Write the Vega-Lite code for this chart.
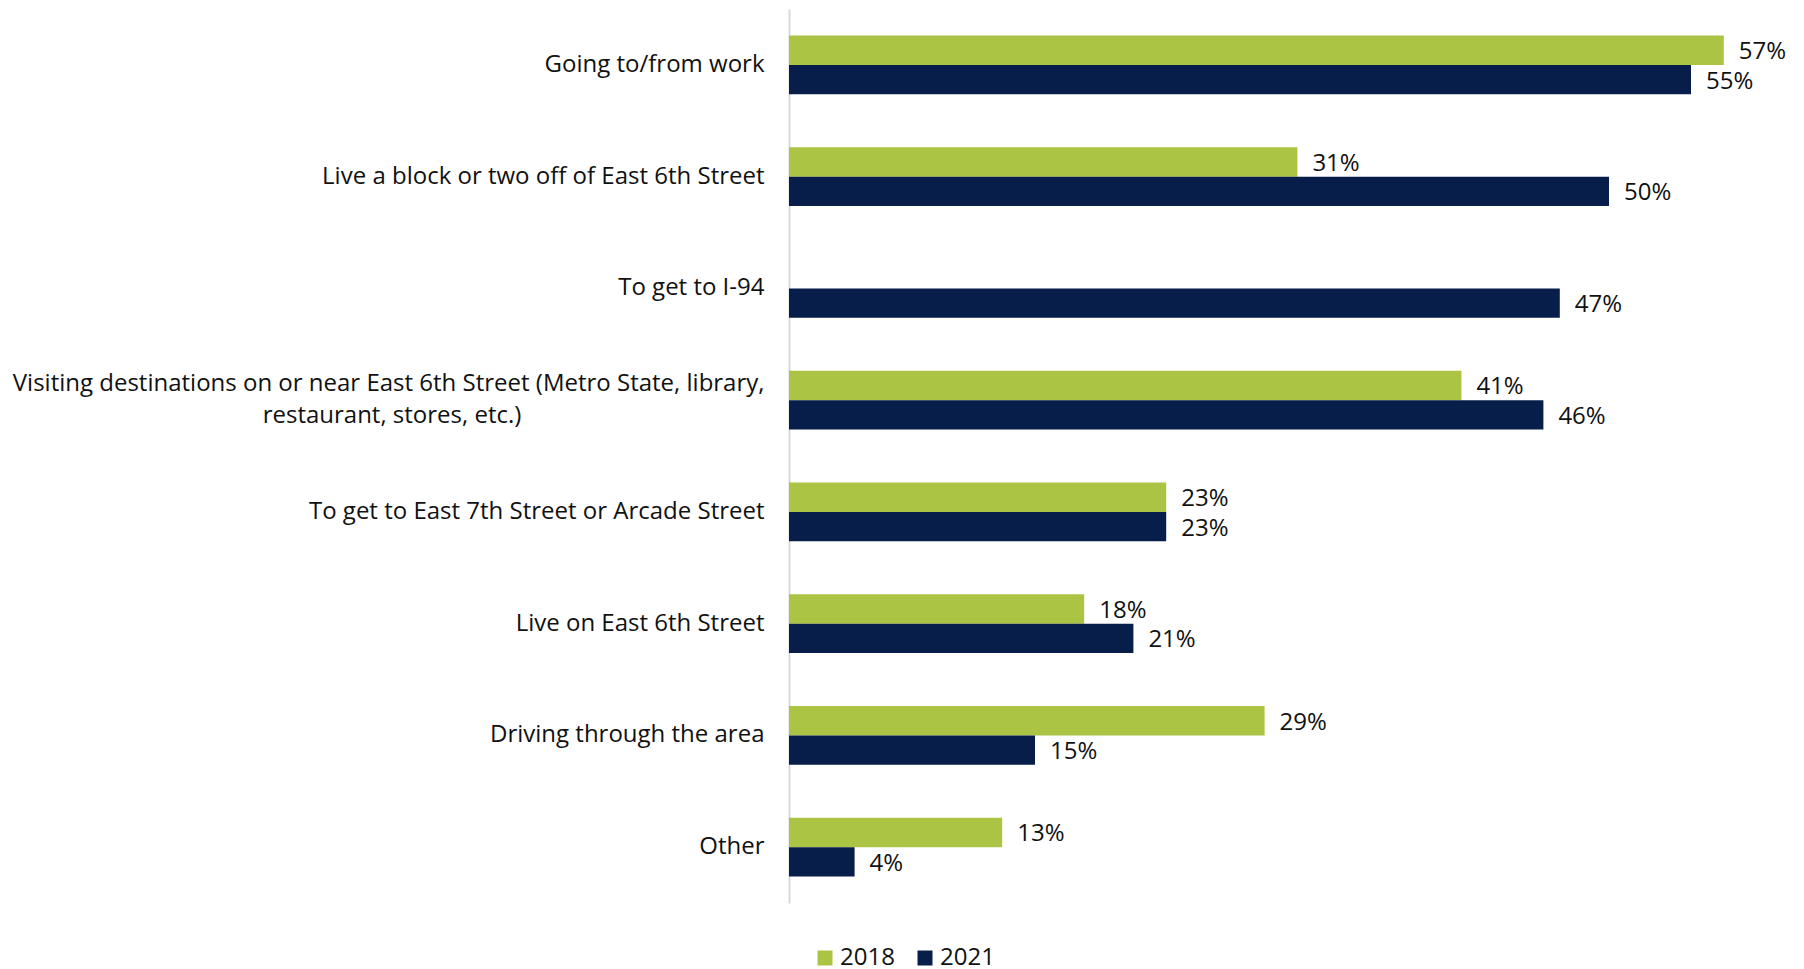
{
  "$schema": "https://vega.github.io/schema/vega-lite/v6.json",
  "autosize": {"type": "none"},
  "padding": {"left": 789, "top": 9, "right": 31, "bottom": 66},
  "width": 984,
  "height": 894,
  "background": "white",
  "config": {
    "view": {"stroke": null},
    "font": "Open Sans",
    "text": {"font": "Open Sans"}
  },
  "data": {
    "values": [
      {"reason": "Going to/from work", "year": "2018", "value": 0.57},
      {"reason": "Going to/from work", "year": "2021", "value": 0.55},
      {"reason": "Live a block or two off of East 6th Street", "year": "2018", "value": 0.31},
      {"reason": "Live a block or two off of East 6th Street", "year": "2021", "value": 0.50},
      {"reason": "To get to I-94", "year": "2021", "value": 0.47},
      {"reason": "Visiting destinations on or near East 6th Street (Metro State, library, restaurant, stores, etc.)", "year": "2018", "value": 0.41},
      {"reason": "Visiting destinations on or near East 6th Street (Metro State, library, restaurant, stores, etc.)", "year": "2021", "value": 0.46},
      {"reason": "To get to East 7th Street or Arcade Street", "year": "2018", "value": 0.23},
      {"reason": "To get to East 7th Street or Arcade Street", "year": "2021", "value": 0.23},
      {"reason": "Live on East 6th Street", "year": "2018", "value": 0.18},
      {"reason": "Live on East 6th Street", "year": "2021", "value": 0.21},
      {"reason": "Driving through the area", "year": "2018", "value": 0.29},
      {"reason": "Driving through the area", "year": "2021", "value": 0.15},
      {"reason": "Other", "year": "2018", "value": 0.13},
      {"reason": "Other", "year": "2021", "value": 0.04}
    ]
  },
  "encoding": {
    "y": {
      "field": "reason",
      "type": "nominal",
      "sort": null,
      "scale": {"paddingInner": 0.475, "paddingOuter": 0.2375},
      "axis": {
        "title": null,
        "ticks": false,
        "grid": false,
        "domainColor": "#d9d9d9",
        "domainWidth": 2,
        "labelFont": "Open Sans",
        "labelFontSize": 24,
        "labelColor": "#111111",
        "labelPadding": 25,
        "labelLimit": 900,
        "labelLineHeight": 32,
        "labelOffset": {"condition": {"test": "length(datum.value) > 60", "value": -16}, "value": 0},
        "labelExpr": "length(datum.value) > 60 ? ['Visiting destinations on or near East 6th Street (Metro State, library,', 'restaurant, stores, etc.)\u00a0\u00a0\u00a0\u00a0\u00a0\u00a0\u00a0\u00a0\u00a0\u00a0\u00a0\u00a0\u00a0\u00a0\u00a0\u00a0\u00a0\u00a0\u00a0\u00a0\u00a0\u00a0\u00a0\u00a0\u00a0\u00a0\u00a0\u00a0\u00a0\u00a0\u00a0\u00a0\u00a0\u00a0\u00a0\u00a0\u00a0\u00a0\u00a0\u200b'] : datum.value"
      }
    },
    "yOffset": {
      "field": "year",
      "type": "nominal",
      "scale": {"domain": ["2018", "2021"], "paddingInner": 0, "paddingOuter": 0}
    },
    "x": {
      "field": "value",
      "type": "quantitative",
      "scale": {"domain": [0, 0.6], "nice": false},
      "axis": null
    }
  },
  "layer": [
    {
      "mark": {"type": "bar"},
      "encoding": {
        "color": {
          "field": "year",
          "type": "nominal",
          "scale": {"domain": ["2018", "2021"], "range": ["#abc443", "#081e4a"]},
          "legend": {
            "title": null,
            "orient": "none",
            "direction": "horizontal",
            "legendX": 24,
            "legendY": 937,
            "symbolType": "square",
            "symbolSize": 225,
            "symbolStrokeWidth": 0,
            "labelFont": "Open Sans",
            "labelFontSize": 24,
            "labelColor": "#111111",
            "labelOffset": 3,
            "columnPadding": 18
          }
        }
      }
    },
    {
      "mark": {"type": "text", "align": "left", "baseline": "middle", "dx": 15, "dy": 2, "fontSize": 24, "font": "Open Sans", "color": "#111111"},
      "encoding": {
        "text": {"field": "value", "type": "quantitative", "format": ".0%"}
      }
    }
  ]
}
